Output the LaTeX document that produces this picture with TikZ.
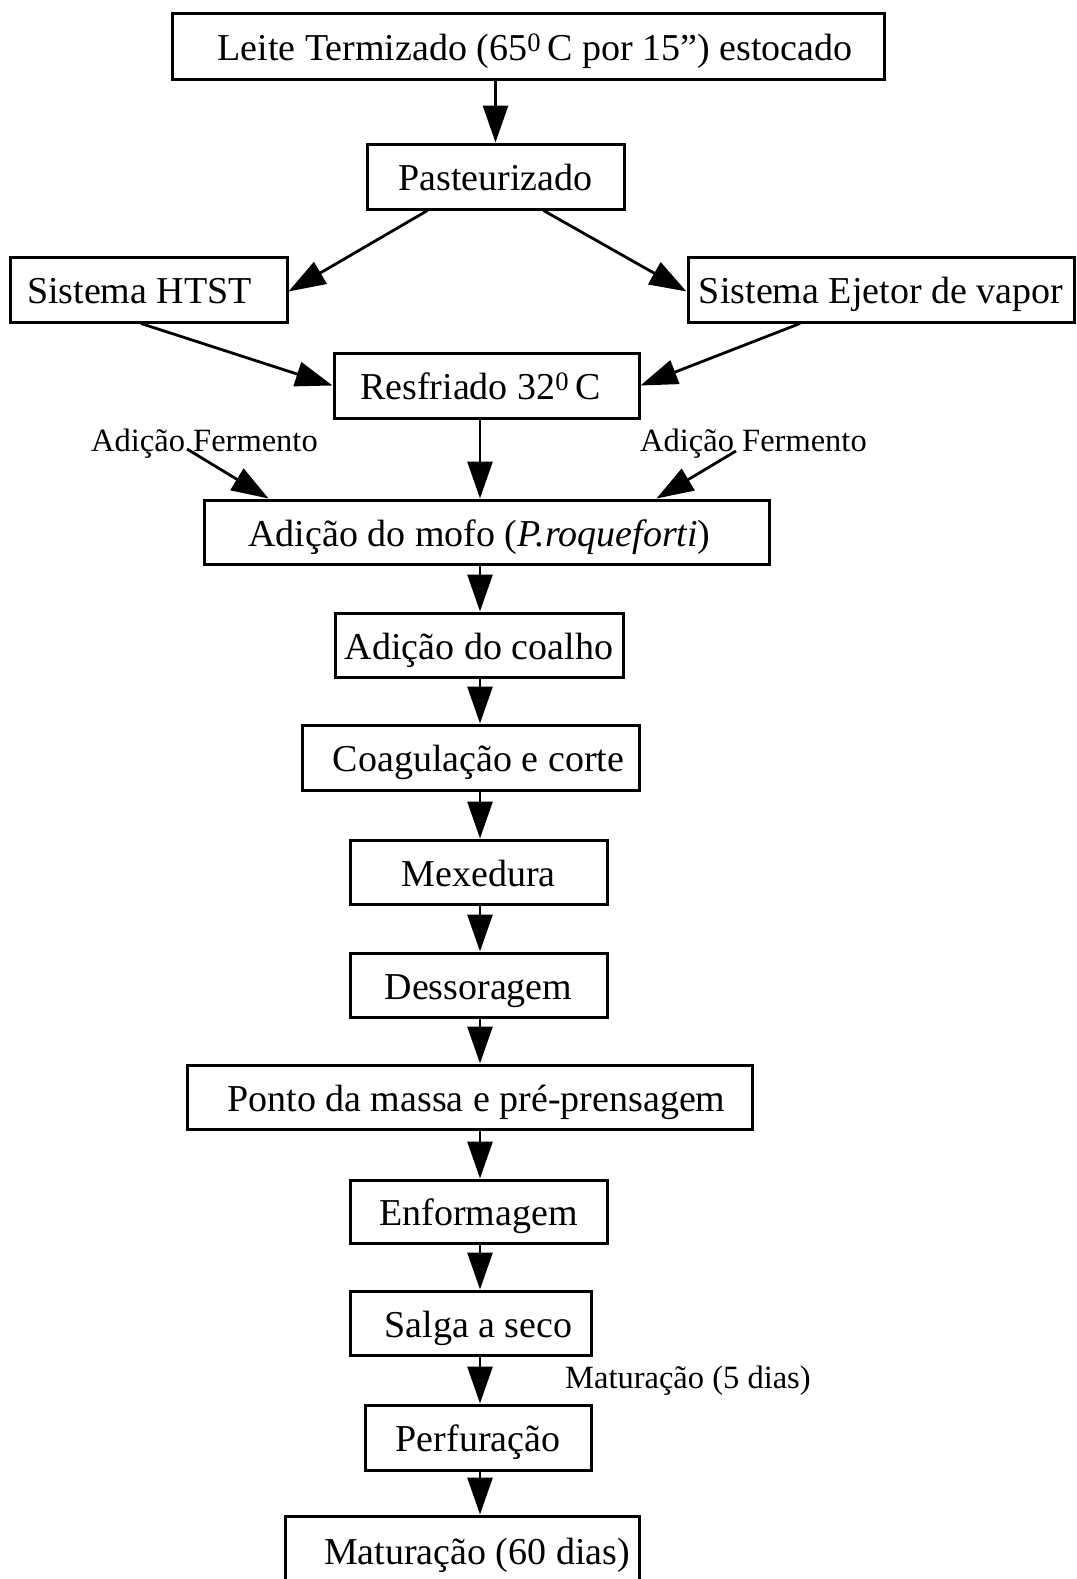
\documentclass[tikz,border=0pt]{standalone}
\usepackage{fontspec}
\setmainfont{Liberation Serif}
\usetikzlibrary{arrows.meta}
\begin{document}
\begin{tikzpicture}[x=1pt,y=-1pt,
  box/.style={draw,line width=3pt,inner sep=0pt,font=\fontsize{38}{45}\selectfont,
    text height=28pt,text depth=0pt,anchor=center},
  lbl/.style={inner sep=0pt,font=\fontsize{32.5}{39}\selectfont,text height=22pt,text depth=0pt},
  arr/.style={line width=2.8pt,-{Triangle[length=37pt,width=25pt]}}]
\useasboundingbox (0,0) rectangle (1076,1579);
\clip (0,0) rectangle (1076,1579);
\fill[white] (0,0) rectangle (1076,1579);
\coordinate (axis) at (480,0);
\node[box,minimum width=712pt,minimum height=65pt] (leite) at (528,46.5) {\hspace*{14pt}Leite Termizado (65\textsuperscript{0}\,C por 15”) estocado};
\node[box,minimum width=257pt,minimum height=65pt] (past) at (495.5,176.5) {Pasteurizado};
\node[box,minimum width=277pt,minimum height=65pt] (htst) at (148.5,289.5) {Sistema HTST\hspace*{18pt}};
\node[box,minimum width=386pt,minimum height=65pt] (ejet) at (881,289.5) {Sistema Ejetor de vapor};
\node[box,minimum width=305pt,minimum height=65pt] (resf) at (486.5,385.5) {Resfriado 32\textsuperscript{0}\,C\hspace*{12pt}};
\node[box,minimum width=565pt,minimum height=64pt] (mofo) at (486.5,532) {Adição do mofo (\textit{P.roqueforti})\hspace*{14pt}};
\node[box,minimum width=288pt,minimum height=64pt] (coal) at (479,645) {Adição do coalho};
\node[box,minimum width=337pt,minimum height=65pt] (coag) at (470.5,757.5) {\hspace*{16pt}Coagulação e corte};
\node[box,minimum width=257pt,minimum height=64pt] (mex) at (478.5,872) {Mexedura};
\node[box,minimum width=257pt,minimum height=64pt] (dess) at (478.5,985) {Dessoragem};
\node[box,minimum width=565pt,minimum height=64pt] (ponto) at (469.5,1097) {\hspace*{14pt}Ponto da massa e pré-prensagem};
\node[box,minimum width=257pt,minimum height=63pt] (enf) at (478.5,1211.5) {Enformagem};
\node[box,minimum width=241pt,minimum height=64pt] (salga) at (470.5,1323) {\hspace*{16pt}Salga a seco};
\node[box,minimum width=226pt,minimum height=65pt] (perf) at (478,1437.5) {Perfuração};
\node[box,minimum width=354pt,minimum height=68pt] (mat) at (462,1550) {\hspace*{30pt}Maturação (60 dias)};
\node[lbl,anchor=west] (ferm1) at (91,440) {Adição Fermento};
\node[lbl,anchor=west] (ferm2) at (640,440) {Adição Fermento};
\node[lbl,anchor=west] (mat5) at (565,1377) {Maturação (5 dias)};
\coordinate (f1) at (187,449);
\coordinate (f2) at (736,451);
\draw[arr] (leite.south -| past.north) -- (past.north);
\draw[arr] ([xshift=-68pt]past.south) -- ([yshift=-2pt]htst.east);
\draw[arr] ([xshift=48pt]past.south) -- ([yshift=-2pt]ejet.west);
\draw[arr] ([xshift=-7.5pt]htst.south) -- (resf.west);
\draw[arr] ([xshift=-81pt]ejet.south) -- (resf.east);
\draw[arr] (f1) -- ([xshift=-218pt]mofo.north);
\draw[arr] (f2) -- ([xshift=170pt]mofo.north);
\draw[arr] (resf.south -| axis) -- (mofo.north -| axis);
\draw[arr] (mofo.south -| axis) -- (coal.north -| axis);
\draw[arr] (coal.south -| axis) -- (coag.north -| axis);
\draw[arr] (coag.south -| axis) -- (mex.north -| axis);
\draw[arr] (mex.south -| axis) -- (dess.north -| axis);
\draw[arr] (dess.south -| axis) -- (ponto.north -| axis);
\draw[arr] (ponto.south -| axis) -- (enf.north -| axis);
\draw[arr] (enf.south -| axis) -- (salga.north -| axis);
\draw[arr] (salga.south -| axis) -- (perf.north -| axis);
\draw[arr] (perf.south -| axis) -- (mat.north -| axis);
\end{tikzpicture}
\end{document}
